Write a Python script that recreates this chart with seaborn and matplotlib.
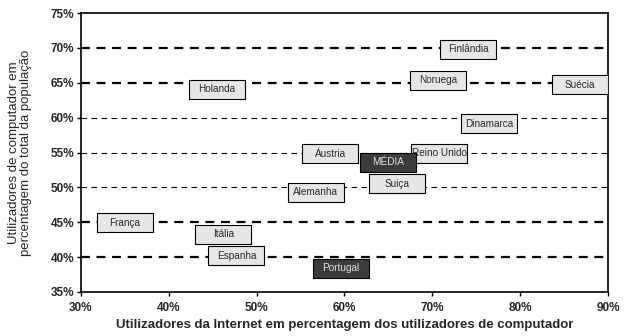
import matplotlib.pyplot as plt
import pandas as pd
import seaborn as sns
from matplotlib.ticker import PercentFormatter

paises = ["Finlândia", "Noruega", "Suécia", "Holanda", "Dinamarca", "Áustria",
          "Reino Unido", "MÉDIA", "Suiça", "Alemanha", "França", "Itália",
          "Espanha", "Portugal"]
internet = [74.1, 70.7, 86.8, 45.5, 76.5, 58.4, 70.8, 65.0, 66.0, 56.7,
            35.0, 46.2, 47.7, 59.6]
computador = [69.8, 65.4, 64.7, 64.1, 59.1, 54.8, 54.9, 53.6, 50.5, 49.3,
              44.9, 43.3, 40.2, 38.4]
destaque = ["MÉDIA", "Portugal"]

grelha_forte = [40, 45, 65, 70]
grelha_fina = [50, 55, 60]

sns.set_theme(style="white")
plt.rcParams["font.family"] = ["Liberation Sans", "DejaVu Sans"]

df = pd.DataFrame({"pais": paises, "x": internet, "y": computador})
df["tipo"] = ["destaque" if p in destaque else "normal" for p in paises]

fig = plt.figure(figsize=(6.25, 3.36), dpi=100)
ax = fig.add_axes([0.1296, 0.131, 0.8432, 0.830])

for v in grelha_forte:
    ax.axhline(v, color="black", ls=(0, (4, 3)), lw=1.6, zorder=1)
for v in grelha_fina:
    ax.axhline(v, color="black", ls=(0, (5, 4)), lw=0.8, zorder=1)

caixa = [(-1, -0.34), (1, -0.34), (1, 0.34), (-1, 0.34), (-1, -0.34)]
sns.scatterplot(data=df, x="x", y="y", hue="tipo", ax=ax, marker=caixa,
                s=1625, palette={"normal": "#e6e6e6", "destaque": "#3c3c3c"},
                edgecolor="black", linewidth=0.8, legend=False, zorder=3)

for _, r in df.iterrows():
    cor = "#e0e0e0" if r["tipo"] == "destaque" else "#2a2a2a"
    ax.text(r["x"], r["y"], r["pais"], ha="center", va="center",
            fontsize=7.2, color=cor, zorder=4)

ax.set_xlim(30, 90)
ax.set_ylim(35, 75)
ax.set_xticks(range(30, 91, 10))
ax.set_yticks(range(35, 76, 5))
ax.xaxis.set_major_formatter(PercentFormatter(decimals=0))
ax.yaxis.set_major_formatter(PercentFormatter(decimals=0))
ax.tick_params(axis="both", which="major", labelsize=8.5, length=3, width=1,
               direction="out", color="black", pad=2, bottom=True, left=True)
ax.tick_params(axis="x", pad=4)
for lbl in ax.get_xticklabels() + ax.get_yticklabels():
    lbl.set_fontweight("bold")

for sp in ax.spines.values():
    sp.set_color("black")
    sp.set_linewidth(1.2)

ax.set_xlabel("Utilizadores da Internet em percentagem dos utilizadores de computador",
              fontsize=9.5, fontweight="bold", labelpad=4)
ax.set_ylabel("Utilizadores de computador em\npercentagem do total da população",
              fontsize=9.5, labelpad=13, linespacing=1.0)

fig.savefig("out.png", dpi=100)
plt.close(fig)
